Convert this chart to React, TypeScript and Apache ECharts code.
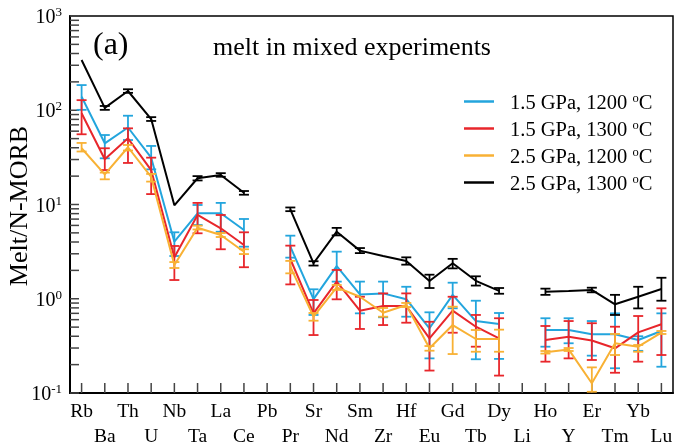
import React, { useEffect, useRef } from "react";
import * as echarts from "echarts";

const categories = ["Rb","Ba","Th","U","Nb","Ta","La","Ce","Pb","Pr","Sr","Nd","Sm","Zr","Hf","Eu","Gd","Tb","Dy","Li","Ho","Y","Er","Tm","Yb","Lu"];

const seriesNames = ["1.5 GPa, 1200", "1.5 GPa, 1300", "2.5 GPa, 1200", "2.5 GPa, 1300"];
const seriesColors = ["#23a5dd", "#e8262b", "#f8b134", "#000000"];

// 1.5 GPa, 1200 °C
const blueMean = [139, 44.6, 65.6, 31.4, 4.03, 8.06, 8.07, 5.36, null, 3.57, 0.99, 2.22, 1.11, 1.14, 0.99, 0.486, 1.10, 0.58, 0.54, null, 0.466, 0.466, 0.42, 0.42, 0.365, 0.455];
const blueLow = [101, 30.9, 48.3, 23.6, 2.84, 6.06, 5.14, 3.57, null, 2.73, 0.673, 1.52, 0.70, 0.636, 0.645, 0.233, 0.792, 0.228, 0.23, null, 0.31, 0.337, 0.249, 0.183, 0.28, 0.19];
const blueHigh = [185, 54.6, 87.5, 41.8, 5.07, 9.88, 10.4, 7.02, null, 4.67, 1.26, 3.16, 1.52, 1.52, 1.34, 0.718, 1.48, 0.953, 0.706, null, 0.621, 0.621, 0.58, 0.70, 0.40, 0.70];

// 1.5 GPa, 1300 °C
const redMean = [92.8, 30.2, 50.4, 23.2, 2.75, 7.74, 5.59, 3.72, null, 2.64, 0.70, 1.52, 0.747, 0.838, 0.838, 0.38, 0.747, 0.505, 0.38, null, 0.365, 0.395, 0.36, 0.298, 0.44, 0.536];
const redLow = [55.6, 23.2, 27.6, 12.9, 1.58, 4.95, 3.35, 2.16, null, 1.42, 0.412, 0.986, 0.478, 0.526, 0.557, 0.173, 0.436, 0.31, 0.153, null, 0.215, 0.233, 0.224, 0.164, 0.215, 0.253];
const redHigh = [128, 39.5, 64.3, 31.4, 3.63, 10.4, 7.74, 5.07, null, 3.66, 0.97, 2.02, 1.05, 1.14, 1.14, 0.57, 1.05, 0.673, 0.621, null, 0.514, 0.58, 0.55, 0.505, 0.656, 0.792];

// 2.5 GPa, 1200 °C
const orangeMean = [39.5, 20.9, 40.5, 19.6, 2.28, 5.67, 4.75, 3.15, null, 2.19, 0.645, 1.32, 1.05, 0.711, 0.859, 0.298, 0.526, 0.374, 0.374, null, 0.27, 0.29, 0.127, 0.337, 0.31, 0.436];
const orangeLow = [36.5, 18.5, 37.4, 17.5, 2.12, 5.43, 4.52, 2.98, null, 1.86, 0.585, 1.24, null, 0.645, 0.817, 0.281, 0.259, 0.274, 0.274, null, 0.262, 0.279, 0.103, 0.253, 0.274, 0.423];
const orangeHigh = [45, 21.8, 42.8, 21.1, 2.45, 5.96, 4.98, 3.35, null, 2.52, 0.706, 1.40, null, 0.798, 0.902, 0.315, 0.824, 0.466, 0.47, null, 0.279, 0.30, 0.187, 0.423, 0.323, 0.455];

// 2.5 GPa, 1300 °C
const blackMean = [341, 106, 160, 80.7, 9.8, 19.0, 20.6, 13.3, null, 8.9, 2.38, 5.15, 3.24, 2.84, 2.51, 1.54, 2.38, 1.55, 1.21, null, 1.19, 1.21, 1.24, 0.873, 1.05, 1.27];
const blackLow = [null, 101, 153, 77, null, 18.0, 19.7, 12.7, null, 8.5, 2.25, 4.7, 3.05, null, 2.3, 1.3, 2.1, 1.38, 1.13, null, 1.1, null, 1.17, 0.673, 0.79, 0.953];
const blackHigh = [null, 111, 167, 84.5, null, 20.0, 21.5, 13.9, null, 9.3, 2.5, 5.65, 3.45, null, 2.75, 1.8, 2.65, 1.73, 1.3, null, 1.28, null, 1.31, 1.1, 1.34, 1.67];

const yDecades = [0.1, 1, 10, 100];
const yMantissas = [1, 2, 3, 4, 5, 6, 7, 8, 9];

const FONT = "'Liberation Serif', 'Times New Roman', serif";
const TICK = "#444";

export default function App() {
  const ref = useRef<HTMLDivElement>(null);
  useEffect(() => {
    if (!ref.current) return;
    const chart = echarts.init(ref.current, null, { renderer: "svg" });

    const means = [blueMean, redMean, orangeMean, blackMean];
    const lows = [blueLow, redLow, orangeLow, blackLow];
    const highs = [blueHigh, redHigh, orangeHigh, blackHigh];

    const tickValues: number[] = [];
    yDecades.forEach((d) => yMantissas.forEach((m) => tickValues.push(+(d * m).toPrecision(3))));
    tickValues.push(1000);

    const lineSeries = means.map((m, k) => ({
      name: seriesNames[k],
      type: "line",
      data: m,
      symbol: "none",
      connectNulls: false,
      lineStyle: { color: seriesColors[k], width: 2 },
      itemStyle: { color: seriesColors[k] },
      z: 3 + k,
    }));

    const errSeries = means.map((m, k) => {
      const data: number[][] = [];
      m.forEach((_, i) => {
        const lo = lows[k][i];
        const hi = highs[k][i];
        if (lo != null && hi != null) data.push([i, lo, hi]);
      });
      const color = seriesColors[k];
      return {
        type: "custom",
        name: "err" + k,
        data,
        encode: { x: 0, y: [1, 2] },
        z: 3 + k,
        renderItem: (params: any, api: any) => {
          const x = api.value(0);
          const pLo = api.coord([x, api.value(1)]);
          const pHi = api.coord([x, api.value(2)]);
          const hw = 5;
          const st = { stroke: color, lineWidth: 1.8, fill: null };
          return {
            type: "group",
            children: [
              { type: "line", shape: { x1: pLo[0], y1: pLo[1], x2: pHi[0], y2: pHi[1] }, style: st },
              { type: "line", shape: { x1: pLo[0] - hw, y1: pLo[1], x2: pLo[0] + hw, y2: pLo[1] }, style: st },
              { type: "line", shape: { x1: pHi[0] - hw, y1: pHi[1], x2: pHi[0] + hw, y2: pHi[1] }, style: st },
            ],
          };
        },
      };
    });

    // y-axis ticks (decades + log-spaced minor ticks), placed through the log axis
    const yTickSeries = {
      type: "custom",
      name: "yticks",
      data: tickValues.map((v) => [0, v]),
      encode: { x: 0, y: 1 },
      z: 2,
      silent: true,
      clip: false,
      renderItem: (params: any, api: any) => {
        const p = api.coord([0, api.value(1)]);
        const cs = params.coordSys;
        const x0 = cs.x;
        return {
          type: "line",
          shape: { x1: x0, y1: p[1], x2: x0 + 9, y2: p[1] },
          style: { stroke: TICK, lineWidth: 1.5 },
        };
      },
    };

    // x-axis ticks at each category centre, placed through the category axis
    const xTickSeries = {
      type: "custom",
      name: "xticks",
      data: categories.map((_, i) => [i, 1]),
      encode: { x: 0, y: 1 },
      z: 2,
      silent: true,
      clip: false,
      renderItem: (params: any, api: any) => {
        const p = api.coord([api.value(0), 1]);
        const cs = params.coordSys;
        const yb = cs.y + cs.height;
        return {
          type: "line",
          shape: { x1: p[0], y1: yb, x2: p[0], y2: yb - 10 },
          style: { stroke: TICK, lineWidth: 1.5 },
        };
      },
    };

    chart.setOption({
      animation: false,
      textStyle: { fontFamily: FONT },
      grid: {
        left: 70, right: 5, top: 16, bottom: 53,
        outerBoundsMode: "none",
        containLabel: false,
        show: true, borderColor: "#000", borderWidth: 1.5, backgroundColor: "transparent",
      },
      legend: {
        data: seriesNames,
        orient: "vertical",
        left: 459,
        top: 86,
        itemWidth: 30,
        itemHeight: 2.5,
        itemGap: 6,
        icon: "rect",
        formatter: (name: string) => `{t|${name} }{s|o}{t|C}`,
        textStyle: {
          fontFamily: FONT,
          color: "#000",
          padding: [0, 0, 0, 11],
          rich: {
            t: { fontSize: 20.5, fontFamily: FONT, color: "#000", lineHeight: 21 },
            s: { fontSize: 12.5, fontFamily: FONT, color: "#000", verticalAlign: "top", lineHeight: 21 },
          },
        },
      },
      graphic: [
        { type: "text", left: 93, top: 27, style: { text: "(a)", font: `32px ${FONT}`, fill: "#000" } },
        { type: "text", left: 213, top: 33, style: { text: "melt in mixed experiments", font: `26px ${FONT}`, fill: "#000" } },
        {
          type: "text", x: 18, y: 206, rotation: Math.PI / 2,
          style: { text: "Melt/N-MORB", font: `26px ${FONT}`, fill: "#000", align: "center", verticalAlign: "middle" },
        },
      ],
      xAxis: {
        type: "category",
        data: categories,
        boundaryGap: true,
        axisLine: { show: true, lineStyle: { color: "#000", width: 2 } },
        axisTick: { show: false },
        axisLabel: {
          interval: 0,
          margin: 5,
          color: "#000",
          fontSize: 19.5,
          fontFamily: FONT,
          lineHeight: 25,
          formatter: (v: string, i: number) => (i % 2 === 1 ? "\n" + v : v),
        },
        splitLine: { show: false },
      },
      yAxis: {
        type: "log",
        logBase: 10,
        min: 0.1,
        max: 1000,
        axisLine: { show: true, lineStyle: { color: "#000", width: 2 } },
        axisTick: { show: false },
        axisLabel: {
          margin: 8,
          color: "#000",
          formatter: (v: number) => `{b|10}{s|${Math.round(Math.log10(v))}}`,
          rich: {
            b: { fontSize: 20, fontFamily: FONT, color: "#000", lineHeight: 22 },
            s: { fontSize: 13, fontFamily: FONT, color: "#000", verticalAlign: "top", lineHeight: 22 },
          },
        },
        splitLine: { show: false },
      },
      series: [yTickSeries, xTickSeries, ...lineSeries, ...errSeries],
    });
    return () => chart.dispose();
  }, []);
  return <div ref={ref} style={{ position: "fixed", left: 0, top: 0, width: 678, height: 446 }} />;
}
